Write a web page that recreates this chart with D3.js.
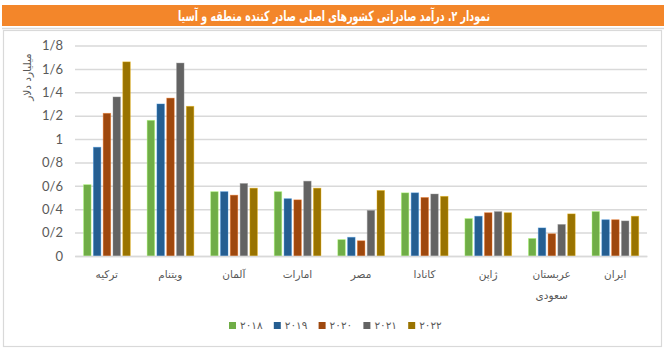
<!DOCTYPE html>
<html>
<head>
<meta charset="utf-8">
<script src="https://cdn.jsdelivr.net/npm/d3@7"></script>
<style>
  html, body { margin: 0; padding: 0; background: #fff; }
  svg { display: block; }
</style>
</head>
<body>
<svg id="chart" width="666" height="350"></svg>
<script>
// Export revenue of the region's main exporting countries (billion dollars)
const categories = ["ترکیه", "ویتنام", "آلمان", "امارات", "مصر", "کانادا", "ژاپن", "عربستان سعودی", "ایران"];
const seriesNames = ["۲۰۱۸", "۲۰۱۹", "۲۰۲۰", "۲۰۲۱", "۲۰۲۲"];
const v2018 = [0.61, 1.16, 0.55, 0.55, 0.14, 0.54, 0.32, 0.15, 0.38];
const v2019 = [0.93, 1.30, 0.55, 0.49, 0.16, 0.54, 0.34, 0.24, 0.31];
const v2020 = [1.22, 1.35, 0.52, 0.48, 0.13, 0.50, 0.37, 0.19, 0.31];
const v2021 = [1.36, 1.65, 0.62, 0.64, 0.39, 0.53, 0.38, 0.27, 0.30];
const v2022 = [1.66, 1.28, 0.58, 0.58, 0.56, 0.51, 0.37, 0.36, 0.34];
const yTicks = [0, 0.2, 0.4, 0.6, 0.8, 1, 1.2, 1.4, 1.6, 1.8];
const title = "نمودار ۲. درآمد صادراتی کشورهای اصلی صادر کننده منطقه و آسیا";
const yTitle = "میلیارد دلار";

const colors = ["#70AD47", "#255E91", "#9E480E", "#636363", "#997300"];
const seriesValues = [v2018, v2019, v2020, v2021, v2022];
const series = seriesNames.map((name, i) => ({ name, values: seriesValues[i], color: colors[i] }));

const svg = d3.select("#chart");
const faFont = "'DejaVu Sans', sans-serif";
const numFont = "Lato, 'Open Sans', sans-serif";

// Title banner
svg.append("rect").attr("x", 2).attr("y", 5).attr("width", 662).attr("height", 21).attr("fill", "#F3862A");
svg.append("line").attr("x1", 2).attr("x2", 664).attr("y1", 28.5).attr("y2", 28.5)
  .attr("stroke", "#D9D9D9").attr("stroke-width", 1.5);
svg.append("text")
  .attr("x", 334).attr("y", 20.5)
  .attr("text-anchor", "middle")
  .attr("direction", "rtl")
  .attr("font-family", faFont)
  .attr("font-weight", "bold")
  .attr("font-size", 14)
  .attr("textLength", 312)
  .attr("lengthAdjust", "spacingAndGlyphs")
  .attr("fill", "#fff")
  .text(title);

// Chart frame
svg.append("rect").attr("x", 3.5).attr("y", 30.5).attr("width", 658).attr("height", 316)
  .attr("fill", "none").attr("stroke", "#D9D9D9").attr("stroke-width", 1.2);

const margin = { left: 75, right: 647, top: 45.5, bottom: 256 };
const y = d3.scaleLinear().domain([0, 1.8]).range([margin.bottom, margin.top]);
const x = d3.scaleBand().domain(categories).range([margin.left, margin.right]).padding(0);
const xs = d3.scaleBand().domain(seriesNames)
  .range([x.bandwidth() * 0.135, x.bandwidth() * 0.87])
  .paddingInner(0.235).paddingOuter(0);

// Gridlines and y tick labels
const yAxis = d3.axisLeft(y).tickValues(yTicks)
  .tickSize(-(margin.right - margin.left))
  .tickPadding(12)
  .tickFormat(d => d3.format("~g")(d).replace(".", "/"));
const gy = svg.append("g").attr("transform", `translate(${margin.left},0)`).call(yAxis);
gy.select(".domain").remove();
gy.selectAll(".tick line").attr("stroke", "#D9D9D9").attr("stroke-width", 1.5);
gy.selectAll(".tick text").attr("font-family", numFont).attr("font-size", 13).attr("fill", "#595959");

// Y axis title
svg.append("text")
  .attr("transform", "translate(31,77) rotate(-90)")
  .attr("text-anchor", "middle")
  .attr("direction", "rtl")
  .attr("font-family", faFont)
  .attr("font-size", 10.5)
  .attr("fill", "#595959")
  .text(yTitle);

// Bars
const groups = svg.append("g").selectAll("g")
  .data(categories)
  .join("g")
  .attr("transform", d => `translate(${x(d)},0)`);

groups.selectAll("rect")
  .data((c, ci) => series.map(s => ({ s, v: s.values[ci] })))
  .join("rect")
  .attr("x", d => xs(d.s.name))
  .attr("width", xs.bandwidth())
  .attr("y", d => y(d.v))
  .attr("height", d => y(0) - y(d.v))
  .attr("fill", d => d.s.color)
  .attr("stroke", d => d3.color(d.s.color).brighter(1.2))
  .attr("stroke-opacity", 0.5)
  .attr("stroke-width", 0.8);

// X axis baseline
const xAxis = d3.axisBottom(x).tickSize(0).tickPadding(0).tickFormat("");
const gx = svg.append("g").attr("transform", `translate(0,${margin.bottom})`).call(xAxis);
gx.select(".domain").attr("stroke", "#D9D9D9").attr("stroke-width", 1.5);

// Category labels (wrapped onto two lines where needed)
const catLabels = svg.append("g").selectAll("text")
  .data(categories)
  .join("text")
  .attr("x", d => x(d) + x.bandwidth() / 2)
  .attr("y", 278)
  .attr("text-anchor", "middle")
  .attr("direction", "rtl")
  .attr("font-family", faFont)
  .attr("font-size", 10.5)
  .attr("fill", "#595959");
catLabels.each(function (d) {
  const parts = d.split(" ");
  const t = d3.select(this);
  parts.forEach((p, i) => {
    t.append("tspan").attr("x", x(d) + x.bandwidth() / 2).attr("dy", i === 0 ? 0 : 21).text(p);
  });
});

// Legend
const legend = svg.append("g").selectAll("g")
  .data(series)
  .join("g")
  .attr("transform", (d, i) => `translate(${229 + i * 44.8},322)`);
legend.append("rect").attr("width", 7).attr("height", 7).attr("fill", d => d.color);
legend.append("text")
  .attr("x", 11).attr("y", 7)
  .attr("font-family", faFont)
  .attr("font-size", 10.5)
  .attr("fill", "#595959")
  .text(d => d.name);
</script>
</body>
</html>
